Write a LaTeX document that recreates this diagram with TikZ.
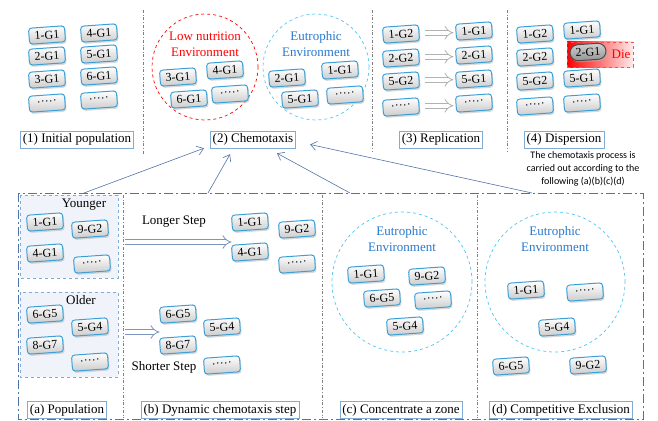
\documentclass[tikz,border=0pt]{standalone}
\usepackage{fontspec}
\setmainfont{Liberation Serif}
\newfontfamily\notefont{Carlito}
\usetikzlibrary{arrows.meta,shadows}
\definecolor{tokenedge}{RGB}{60,160,215}
\definecolor{envblue}{RGB}{40,120,205}
\definecolor{linkblue}{RGB}{80,115,170}
\definecolor{capedge}{RGB}{130,170,215}
\definecolor{groupfill}{RGB}{240,244,250}
\begin{document}
\begin{tikzpicture}[x=1pt,y=-1pt,
  token/.style={rectangle,rounded corners=3pt,draw=tokenedge,line width=1pt,
    top color=white,bottom color=gray!40,
    drop shadow={shadow xshift=1.2pt,shadow yshift=-1.8pt,fill=gray!60},
    minimum width=36,minimum height=16,inner sep=1pt,
    font=\fontsize{12}{12}\selectfont,rotate=4},
  deadtoken/.style={token,rounded corners=8pt,draw=gray!60!black,
    top color=gray!35,bottom color=gray!85},
  caption/.style={draw=capedge,fill=white,inner sep=2.5pt,line width=0.7pt,
    font=\fontsize{13}{13}\selectfont},
  txt/.style={font=\fontsize{13}{16}\selectfont,align=center,inner sep=0pt},
  sep/.style={draw=gray,dash dot,line width=0.6pt},
  env/.style={circle,draw=#1,dashed,line width=0.7pt},
  hollow/.style={draw=gray!60,double=white,double distance=4pt,line width=0.8pt,
    -{Implies[scale=1.8]},shorten <=6pt,shorten >=2pt},
  stepline/.style={draw=linkblue!75,double=white,double distance=4pt,line width=0.8pt,
    -{Implies[scale=2]}},
  feed/.style={draw=linkblue,line width=0.6pt,-{Straight Barb[length=6pt,width=9pt]}},
  groupbox/.style={draw=capedge,dashed,fill=groupfill,line width=0.6pt}]
\useasboundingbox (0,0) rectangle (658,420);
% (1) initial population
\node[token] (i1) at (47,35) {1-G1};
\node[token] (i2) at (47,56) {2-G1};
\node[token] (i3) at (47,79) {3-G1};
\node[token] (i4) at (47,103) {·····};
\node[token] (i5) at (99,33) {4-G1};
\node[token] (i6) at (99,54) {5-G1};
\node[token] (i7) at (99,76) {6-G1};
\node[token] (i8) at (99,100) {·····};
\node[caption] (initial) at (77,139.5) {(1) Initial population};
\draw[sep] (143,10) -- (143,155);
% (2) chemotaxis
\node[env=red,minimum size=106] (lowenv) at (205,67) {};
\node[txt,text=red] (lowtxt) at (205,44) {Low nutrition\\Environment};
\node[token] (c1) at (178,77) {3-G1};
\node[token] (c2) at (225,70) {4-G1};
\node[token] (c3) at (189,99) {6-G1};
\node[token] (c4) at (230,94) {·····};
\node[env=cyan!70,minimum size=106] (richenv) at (316,67) {};
\node[txt,text=envblue] (richtxt) at (316,44) {Eutrophic\\Environment};
\node[token] (c5) at (287,78) {2-G1};
\node[token] (c6) at (340,70) {1-G1};
\node[token] (c7) at (300,99) {5-G1};
\node[token] (c8) at (345,95) {·····};
\node[caption] (chem) at (253,139.5) {(2) Chemotaxis};
\draw[sep] (372,10) -- (372,152);
% (3) replication
\node[token] (r1) at (401,34) {1-G2};
\node[token] (r2) at (401,58) {2-G2};
\node[token] (r3) at (401,81) {5-G2};
\node[token] (r4) at (401,107) {·····};
\node[token] (d1) at (474,31) {1-G1};
\node[token] (d2) at (474,55) {2-G1};
\node[token] (d3) at (474,79) {5-G1};
\node[token] (d4) at (474,103) {·····};
\foreach \k in {1,...,4}
  \draw[hollow] (r\k.east) -- (r\k.east -| d\k.west);
\node[caption] (repl) at (441,139.5) {(3) Replication};
\draw[sep] (507,10) -- (507,152);
% (4) dispersion
\node[token] (s1) at (535,34) {1-G2};
\node[token] (s2) at (535,57) {2-G2};
\node[token] (s3) at (535,81) {5-G2};
\node[token] (s4) at (535,106) {·····};
\node[draw=red!70,dashed,left color=red,right color=red!8,minimum width=66,
  minimum height=25,inner sep=0pt] (diebox) at (600,54.5) {};
\node[token] (s5) at (582,30) {1-G1};
\node[deadtoken] (s6) at (588,52) {2-G1};
\node[token] (s7) at (582,78) {5-G1};
\node[token] (s8) at (582,103) {·····};
\node[txt,text=red] (die) at (621,54) {Die};
\node[caption] (disp) at (564,139.5) {(4) Dispersion};
\node[font=\notefont\fontsize{10}{13}\selectfont,align=center,inner sep=0pt]
  (note) at (583,169) {The chemotaxis process is\\carried out according to the\\following (a)(b)(c)(d)};
% chemotaxis details
\draw[draw=linkblue,line width=1pt,dash pattern=on 9pt off 3pt on 2pt off 3pt]
  (18,193) rectangle (643,419);
\draw[sep] (123,195) -- (123,418);
\draw[sep] (322,195) -- (322,418);
\draw[sep] (477,195) -- (477,418);
\coordinate (f1) at (84,193);
\coordinate (f2) at (208,193);
\coordinate (f3) at (350,193);
\coordinate (f4) at (532,193);
\draw[feed] (f1) -- ([xshift=-6]chem.south west);
\draw[feed] (f2) -- ([xshift=-23,yshift=-6]chem.south);
\draw[feed] (f3) -- ([xshift=24,yshift=-5]chem.south);
\draw[feed] (f4) -- ([xshift=14,yshift=-5]chem.east);
% (a) population
\draw[groupbox] (20,195) rectangle (118,278);
\node[txt] (young) at (84,205) {Younger};
\node[token] (a1) at (45,222) {1-G1};
\node[token] (a2) at (90,229) {9-G2};
\node[token] (a3) at (45,253) {4-G1};
\node[token] (a4) at (92,264) {·····};
\draw[groupbox] (20,292) rectangle (118,377);
\node[txt] (old) at (81,300) {Older};
\node[token] (a5) at (45,314) {6-G5};
\node[token] (a6) at (90,327) {5-G4};
\node[token] (a7) at (45,345) {8-G7};
\node[token] (a8) at (90,362) {·····};
\node[caption] (popu) at (67,410) {(a) Population};
% (b) dynamic step
\node[token] (b1) at (250,222) {1-G1};
\node[token] (b2) at (297,229) {9-G2};
\node[token] (b3) at (250,252) {4-G1};
\node[token] (b4) at (297,264) {·····};
\coordinate (lstart) at (125,242);
\draw[stepline] (lstart) -- (lstart -| b3.west);
\node[txt] (longer) at (174,222) {Longer Step};
\node[token] (b5) at (178,314) {6-G5};
\node[token] (b6) at (222,327) {5-G4};
\node[token] (b7) at (178,345) {8-G7};
\node[token] (b8) at (222,365) {·····};
\coordinate (sstart) at (125,332);
\draw[stepline] (sstart) -- (sstart -| b5.west);
\node[txt] (shorter) at (164,367) {Shorter Step};
\node[caption] (dyn) at (220,410) {(b) Dynamic chemotaxis step};
% (c) concentrate
\node[env=cyan!70,minimum size=140] (zone) at (402,282) {};
\node[txt,text=envblue] (zonetxt) at (402,239) {Eutrophic\\Environment};
\node[token] (z1) at (366,274) {1-G1};
\node[token] (z2) at (427,276) {9-G2};
\node[token] (z3) at (382,298) {6-G5};
\node[token] (z4) at (433,300) {·····};
\node[token] (z5) at (405,326) {5-G4};
\node[caption] (conc) at (401,410) {(c) Concentrate a zone};
% (d) competitive exclusion
\node[env=cyan!70,minimum size=140] (excl) at (555,282) {};
\node[txt,text=envblue] (excltxt) at (555,239) {Eutrophic\\Environment};
\node[token] (e1) at (526,290) {1-G1};
\node[token] (e2) at (585,292) {·····};
\node[token] (e3) at (557,327) {5-G4};
\node[token] (e4) at (511,366) {6-G5};
\node[token] (e5) at (588,365) {9-G2};
\node[caption] (comp) at (561,410) {(d) Competitive Exclusion};
\end{tikzpicture}
\end{document}
